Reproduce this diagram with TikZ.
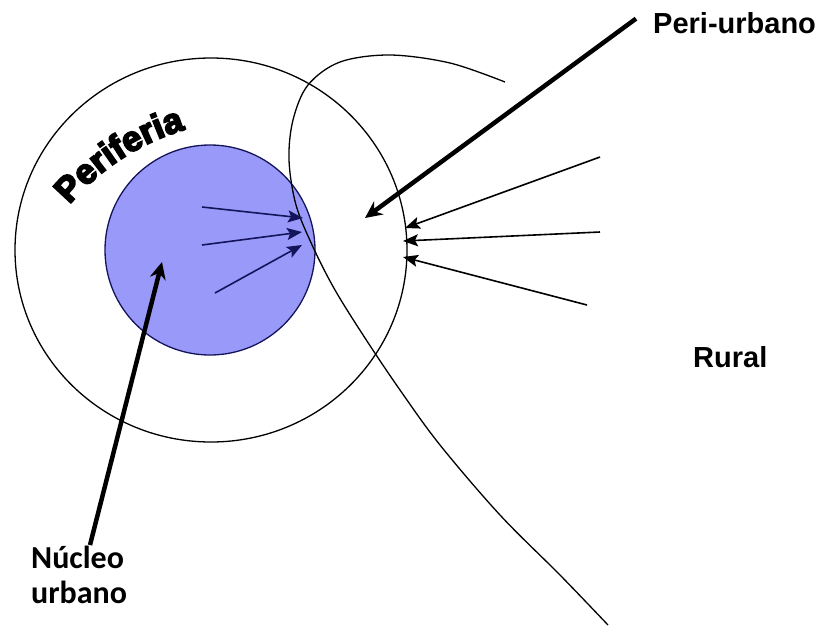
\documentclass[tikz,border=0pt]{standalone}
\usepackage{fontspec}
\setmainfont{Liberation Sans}
\newfontfamily\carl{Carlito}
\newfontfamily\perif{Liberation Sans Bold}[FakeBold=5]
\usetikzlibrary{arrows.meta,decorations.text}
\definecolor{nucleo}{RGB}{153,153,250}
\definecolor{navyline}{RGB}{20,20,90}
\tikzset{
  ring/.style={draw=black, line width=1.3pt},
  core/.style={draw=navyline, fill=nucleo, line width=1.3pt},
  boundary/.style={draw=black, line width=1.3pt},
  flowin/.style={draw=navyline, line width=1.6pt, -{Stealth[length=15pt,width=12pt,inset=3pt]}},
  flowout/.style={draw=black, line width=1.6pt, -{Stealth[length=15pt,width=12pt,inset=3pt]}},
  pointer/.style={draw=black, line width=4.5pt, -{Stealth[length=17pt,width=16pt]}},
  lbl/.style={font=\fontsize{29}{32}\selectfont\bfseries, inner sep=0pt},
  lblc/.style={font=\carl\fontsize{32}{35}\selectfont\bfseries, inner sep=0pt, align=left}
}
\begin{document}
\begin{tikzpicture}[x=1pt,y=1pt]
\useasboundingbox (0,0) rectangle (820,-625);
% circles
\coordinate (C) at (211,-250);
\draw[ring] (C) ellipse [x radius=196, y radius=192];
\draw[core] (210,-250) circle [radius=105];
% peri-urban boundary
\draw[boundary] plot[smooth, tension=0.55] coordinates {(505,-82) (450,-63) (390,-55) (340,-62) (308,-85) (293,-120) (289,-160) (296,-205) (313,-247) (335,-290) (365,-338) (400,-390) (440,-445) (500,-515) (560,-575) (608,-625)};
% periferia label along arc
\coordinate (T) at (252,-359);
\path[decorate, decoration={text along path, text align=center,
  text={|\perif\fontsize{35}{35}\selectfont|Periferia}}]
  (T) ++(145:239) arc[start angle=145, end angle=101, radius=239];
% inner arrows
\coordinate (i1s) at (202,-207); \coordinate (i1e) at (303,-218);
\coordinate (i2s) at (202,-245); \coordinate (i2e) at (302,-232);
\coordinate (i3s) at (215,-293); \coordinate (i3e) at (302,-245);
\draw[flowin] (i1s) -- (i1e);
\draw[flowin] (i2s) -- (i2e);
\draw[flowin] (i3s) -- (i3e);
% outer arrows
\coordinate (o1s) at (600,-157); \coordinate (o1e) at (405,-228);
\coordinate (o2s) at (600,-232); \coordinate (o2e) at (403,-241);
\coordinate (o3s) at (587,-305); \coordinate (o3e) at (403,-257);
\draw[flowout] (o1s) -- (o1e);
\draw[flowout] (o2s) -- (o2e);
\draw[flowout] (o3s) -- (o3e);
% labels
\node[lbl, anchor=base west] (peri) at (653,-33) {Peri-urbano};
\node[lbl, anchor=base west] (rural) at (693,-367) {Rural};
\node[lblc, anchor=north west] (nuc) at (31,-546) {Núcleo\\urbano};
% pointers
\coordinate (ptip) at (365,-218);
\coordinate (ntip) at (162,-262);
\draw[pointer] (peri.west) ++(-17,4) -- (ptip);
\draw[pointer] (nuc.north west) ++(59,1) -- (ntip);
\end{tikzpicture}
\end{document}
